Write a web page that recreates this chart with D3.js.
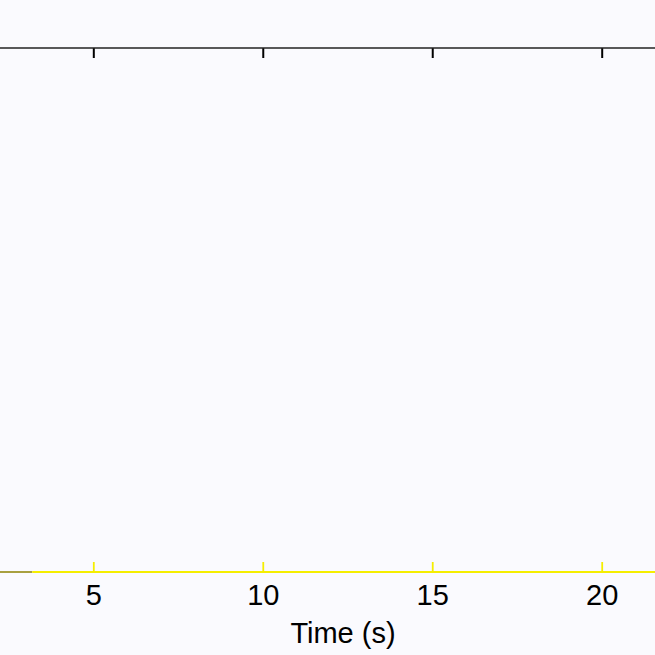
<!DOCTYPE html>
<html>
<head>
<meta charset="utf-8">
<script src="https://cdn.jsdelivr.net/npm/d3@7"></script>
<style>
  body { margin: 0; background: #fafafe; }
  svg { display: block; }
</style>
</head>
<body>
<svg></svg>
<script>
// chart data
const xTicks = [5, 10, 15, 20];
const xLabel = 'Time (s)';
const traceTime = [2, 3.2];
const traceValue = [0, 0];

const width = 655;
const height = 655;
const axisTopY = 48, axisBottomY = 572;

const svg = d3.select('svg')
    .attr('width', width)
    .attr('height', height)
    .style('font-family', 'Arial, "Liberation Sans", sans-serif');

// x scale: 5 -> 93.3px, 20 -> 601.7px
const x = d3.scaleLinear().domain([5, 20]).range([93.3, 601.7]);
const y = d3.scaleLinear().domain([0, 1]).range([axisBottomY, axisTopY]);

svg.append('rect')
    .attr('width', width).attr('height', height)
    .attr('fill', '#fafafe');

// short trace sitting on the bottom axis at the left
const line = d3.line()
    .x((d, i) => x(traceTime[i]))
    .y(d => y(d));
svg.append('path')
    .datum(traceValue)
    .attr('d', line)
    .attr('fill', 'none')
    .attr('stroke', '#a8a040')
    .attr('stroke-width', 2);

// top axis, no labels, ticks pointing down
const topAxis = svg.append('g')
    .attr('transform', `translate(0,${axisTopY})`)
    .call(d3.axisTop(x).tickValues(xTicks).tickSize(-10).tickFormat(''));
topAxis.select('.domain').remove();
topAxis.selectAll('line').attr('stroke', '#000').attr('stroke-width', 2);
topAxis.append('line')
    .attr('x1', 0).attr('x2', width)
    .attr('stroke', '#222').attr('stroke-width', 1.6);

// bottom axis, yellow, ticks pointing up
const bottomAxis = svg.append('g')
    .attr('transform', `translate(0,${axisBottomY})`)
    .call(d3.axisBottom(x).tickValues(xTicks).tickSize(-10).tickPadding(12));
bottomAxis.select('.domain').remove();
bottomAxis.selectAll('line').attr('stroke', '#f5ee00').attr('stroke-width', 1.8);
bottomAxis.insert('line', ':first-child')
    .attr('x1', x(traceTime[1])).attr('x2', width)
    .attr('stroke', '#f5ee00').attr('stroke-width', 2);
bottomAxis.selectAll('text')
    .attr('fill', '#000')
    .style('font-size', '29px')
    .style('font-family', 'Arial, "Liberation Sans", sans-serif');

svg.append('text')
    .attr('x', 343)
    .attr('y', 643)
    .attr('text-anchor', 'middle')
    .style('font-size', '29px')
    .attr('fill', '#000')
    .text(xLabel);
</script>
</body>
</html>
